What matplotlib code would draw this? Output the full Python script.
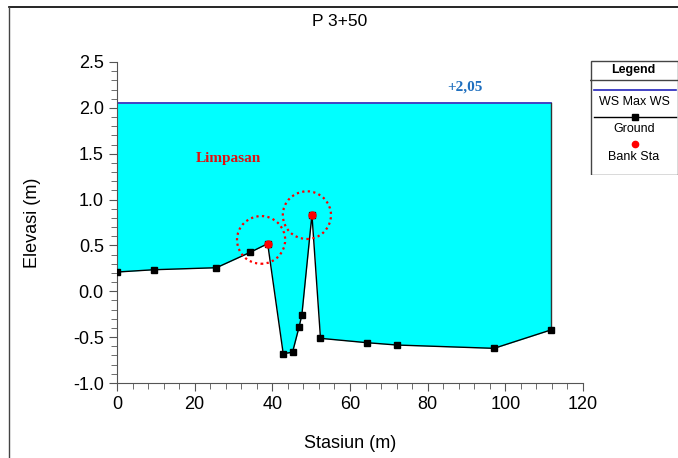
import matplotlib
matplotlib.use("Agg")
import matplotlib.pyplot as plt
from matplotlib.patches import Ellipse, Rectangle
from matplotlib.lines import Line2D
from matplotlib.ticker import MultipleLocator

plt.rcParams['font.family'] = ['Liberation Sans', 'DejaVu Sans']

# Data
station = [0, 9.5, 25.6, 34.3, 38.8, 42.8, 45.2, 46.9, 47.6, 50.2, 52.4, 64.5, 72.1, 97.1, 111.7]
elev = [0.21, 0.235, 0.257, 0.425, 0.519, -0.68, -0.665, -0.386, -0.259, 0.835, -0.513, -0.561, -0.586, -0.622, -0.422]
bank_idx = [4, 9]
ws_elev = 2.05
title = "P 3+50"
xlabel = "Stasiun (m)"
ylabel = "Elevasi (m)"
ws_label = "+2,05"
flow_label = "Limpasan"
circle_centers = [(37.1, 0.56), (48.9, 0.83)]

fig = plt.figure(figsize=(6.78, 4.58), dpi=100)
W, H = 678, 458
ax = fig.add_axes([117 / W, 1 - 383 / H, 466 / W, 321 / H])

ax.fill_between(station, elev, [ws_elev] * len(station), color='#00ffff', zorder=1, linewidth=0)
ax.plot([station[0], station[-1]], [ws_elev, ws_elev], color='#2222bb', lw=1.2, zorder=2)
ax.plot([station[-1], station[-1]], [elev[-1], ws_elev], color='#333333', lw=1.0, zorder=2)
ax.plot(station, elev, color='black', lw=1.0, marker='s', markersize=4.2, zorder=3)
ax.plot([station[i] for i in bank_idx], [elev[i] for i in bank_idx], 'o', color='red',
        markersize=5, zorder=4, linestyle='none')

for cx, cy in circle_centers:
    ax.add_patch(Ellipse((cx, cy), width=12.4, height=0.52, fill=False, edgecolor='red',
                         linestyle=(0, (1, 1.5)), linewidth=1.6, zorder=5))

ax.text(28.6, 1.45, flow_label, color='#e01010', fontsize=11, fontweight='bold',
        family='Liberation Serif', ha='center', va='center')
ax.text(89.6, 2.23, ws_label, color='#1f6fbf', fontsize=11, fontweight='bold',
        family='Liberation Serif', ha='center', va='center')

ax.set_xlim(0, 120)
ax.set_ylim(-1.0, 2.5)
ax.xaxis.set_major_locator(MultipleLocator(20))
ax.xaxis.set_minor_locator(MultipleLocator(4))
ax.yaxis.set_major_locator(MultipleLocator(0.5))
ax.yaxis.set_minor_locator(MultipleLocator(0.1))
ax.yaxis.set_major_formatter(matplotlib.ticker.FormatStrFormatter('%.1f'))
for s in ['top', 'right']:
    ax.spines[s].set_visible(False)
for s in ['left', 'bottom']:
    ax.spines[s].set_color('#555555')
ax.tick_params(which='major', length=6, labelsize=13, color='#555555')
ax.tick_params(which='minor', length=4, color='#555555')
ax.set_xlabel(xlabel, fontsize=13, labelpad=16)
ax.set_ylabel(ylabel, fontsize=13, labelpad=23)
fig.text(340 / W, 1 - 22 / H, title, fontsize=12.5, ha='center', va='center')

# figure border
fig.add_artist(Line2D([9 / W, 1], [1 - 7 / H, 1 - 7 / H], color='black', lw=1.2))
fig.add_artist(Line2D([9 / W, 9 / W], [0, 1 - 7 / H], color='#444444', lw=1.0))

# legend box
lax = fig.add_axes([590 / W, 1 - 175 / H, 88 / W, 115 / H])
lax.set_xlim(590, 678)
lax.set_ylim(175, 60)
lax.axis('off')
lax.add_patch(Rectangle((590.5, 60.5), 87, 114, fill=False, edgecolor='#444444', lw=1.0))
lax.plot([590, 678], [80, 80], color='#444444', lw=1.0)
lax.text(633, 69.5, "Legend", fontsize=9, fontweight='bold', ha='center', va='center')
lax.plot([594, 676], [90, 90], color='#2222bb', lw=1.2)
lax.text(634, 102, "WS Max WS", fontsize=9, ha='center', va='center')
lax.plot([594, 676], [117, 117], color='black', lw=1.0)
lax.plot([635], [117], 's', color='black', markersize=4)
lax.text(634, 129, "Ground", fontsize=9, ha='center', va='center')
lax.plot([635], [144], 'o', color='red', markersize=4.5)
lax.text(634, 157, "Bank Sta", fontsize=9, ha='center', va='center')

fig.savefig("out.png", dpi=100)
